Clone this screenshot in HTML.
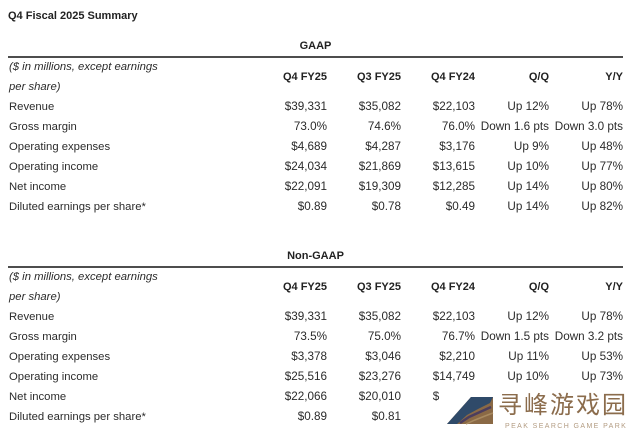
<!DOCTYPE html>
<html>
<head>
<meta charset="utf-8">
<style>
  html, body { margin:0; padding:0; }
  body { width:640px; height:438px; background:#fff; position:relative; overflow:hidden;
         font-family:"Liberation Sans", Arial, sans-serif; color:#2b2b2b; }
  .t { position:absolute; white-space:nowrap; line-height:20px; font-size:11.3px; }
  .b { font-weight:bold; color:#222; }
  .i { font-style:italic; }
  .n { font-size:11.7px; text-align:right; }
  .h { font-size:11px; }
  .line { position:absolute; left:8px; width:615px; height:2px; background:#4d4d4d; }
</style>
</head>
<body>

<div class="t b" style="left:8px;top:6px;font-size:11px;">Q4 Fiscal 2025 Summary</div>

<!-- GAAP -->
<div class="t b" style="left:215px;width:201px;text-align:center;top:36px;font-size:11px;">GAAP</div>
<div class="line" style="top:56px;"></div>
<div class="t i" style="left:9px;top:57px;">($ in millions, except earnings</div>
<div class="t i" style="left:9px;top:77px;">per share)</div>

<div class="t b n h" style="right:313px;top:67px;">Q4 FY25</div>
<div class="t b n h" style="right:239px;top:67px;">Q3 FY25</div>
<div class="t b n h" style="right:165px;top:67px;">Q4 FY24</div>
<div class="t b n h" style="right:91px;top:67px;">Q/Q</div>
<div class="t b n h" style="right:17px;top:67px;">Y/Y</div>

<div class="t" style="left:9px;top:97px;">Revenue</div>
<div class="t n" style="right:313px;top:97px;">$39,331</div>
<div class="t n" style="right:239px;top:97px;">$35,082</div>
<div class="t n" style="right:165px;top:97px;">$22,103</div>
<div class="t n" style="right:91px;top:97px;">Up 12%</div>
<div class="t n" style="right:17px;top:97px;">Up 78%</div>

<div class="t" style="left:9px;top:117px;">Gross margin</div>
<div class="t n" style="right:313px;top:117px;">73.0%</div>
<div class="t n" style="right:239px;top:117px;">74.6%</div>
<div class="t n" style="right:165px;top:117px;">76.0%</div>
<div class="t n" style="right:91px;top:117px;">Down 1.6 pts</div>
<div class="t n" style="right:17px;top:117px;">Down 3.0 pts</div>

<div class="t" style="left:9px;top:137px;">Operating expenses</div>
<div class="t n" style="right:313px;top:137px;">$4,689</div>
<div class="t n" style="right:239px;top:137px;">$4,287</div>
<div class="t n" style="right:165px;top:137px;">$3,176</div>
<div class="t n" style="right:91px;top:137px;">Up 9%</div>
<div class="t n" style="right:17px;top:137px;">Up 48%</div>

<div class="t" style="left:9px;top:157px;">Operating income</div>
<div class="t n" style="right:313px;top:157px;">$24,034</div>
<div class="t n" style="right:239px;top:157px;">$21,869</div>
<div class="t n" style="right:165px;top:157px;">$13,615</div>
<div class="t n" style="right:91px;top:157px;">Up 10%</div>
<div class="t n" style="right:17px;top:157px;">Up 77%</div>

<div class="t" style="left:9px;top:177px;">Net income</div>
<div class="t n" style="right:313px;top:177px;">$22,091</div>
<div class="t n" style="right:239px;top:177px;">$19,309</div>
<div class="t n" style="right:165px;top:177px;">$12,285</div>
<div class="t n" style="right:91px;top:177px;">Up 14%</div>
<div class="t n" style="right:17px;top:177px;">Up 80%</div>

<div class="t" style="left:9px;top:197px;">Diluted earnings per share*</div>
<div class="t n" style="right:313px;top:197px;">$0.89</div>
<div class="t n" style="right:239px;top:197px;">$0.78</div>
<div class="t n" style="right:165px;top:197px;">$0.49</div>
<div class="t n" style="right:91px;top:197px;">Up 14%</div>
<div class="t n" style="right:17px;top:197px;">Up 82%</div>

<!-- Non-GAAP -->
<div class="t b" style="left:215px;width:201px;text-align:center;top:246px;font-size:11px;">Non-GAAP</div>
<div class="line" style="top:266px;"></div>
<div class="t i" style="left:9px;top:267px;">($ in millions, except earnings</div>
<div class="t i" style="left:9px;top:287px;">per share)</div>

<div class="t b n h" style="right:313px;top:277px;">Q4 FY25</div>
<div class="t b n h" style="right:239px;top:277px;">Q3 FY25</div>
<div class="t b n h" style="right:165px;top:277px;">Q4 FY24</div>
<div class="t b n h" style="right:91px;top:277px;">Q/Q</div>
<div class="t b n h" style="right:17px;top:277px;">Y/Y</div>

<div class="t" style="left:9px;top:307px;">Revenue</div>
<div class="t n" style="right:313px;top:307px;">$39,331</div>
<div class="t n" style="right:239px;top:307px;">$35,082</div>
<div class="t n" style="right:165px;top:307px;">$22,103</div>
<div class="t n" style="right:91px;top:307px;">Up 12%</div>
<div class="t n" style="right:17px;top:307px;">Up 78%</div>

<div class="t" style="left:9px;top:327px;">Gross margin</div>
<div class="t n" style="right:313px;top:327px;">73.5%</div>
<div class="t n" style="right:239px;top:327px;">75.0%</div>
<div class="t n" style="right:165px;top:327px;">76.7%</div>
<div class="t n" style="right:91px;top:327px;">Down 1.5 pts</div>
<div class="t n" style="right:17px;top:327px;">Down 3.2 pts</div>

<div class="t" style="left:9px;top:347px;">Operating expenses</div>
<div class="t n" style="right:313px;top:347px;">$3,378</div>
<div class="t n" style="right:239px;top:347px;">$3,046</div>
<div class="t n" style="right:165px;top:347px;">$2,210</div>
<div class="t n" style="right:91px;top:347px;">Up 11%</div>
<div class="t n" style="right:17px;top:347px;">Up 53%</div>

<div class="t" style="left:9px;top:367px;">Operating income</div>
<div class="t n" style="right:313px;top:367px;">$25,516</div>
<div class="t n" style="right:239px;top:367px;">$23,276</div>
<div class="t n" style="right:165px;top:367px;">$14,749</div>
<div class="t n" style="right:91px;top:367px;">Up 10%</div>
<div class="t n" style="right:17px;top:367px;">Up 73%</div>

<div class="t" style="left:9px;top:387px;">Net income</div>
<div class="t n" style="right:313px;top:387px;">$22,066</div>
<div class="t n" style="right:239px;top:387px;">$20,010</div>
<div class="t n" style="right:165px;top:387px;">$14,690</div>

<div class="t" style="left:9px;top:407px;">Diluted earnings per share*</div>
<div class="t n" style="right:313px;top:407px;">$0.89</div>
<div class="t n" style="right:239px;top:407px;">$0.81</div>

<!-- watermark -->
<div style="position:absolute;left:440px;top:388px;width:200px;height:50px;background:#fff;"></div>
<svg style="position:absolute;left:0;top:0;" width="640" height="438" viewBox="0 0 640 438">
  <polygon points="447,424 471,397 493,397 493,424" fill="#8a6945"/>
  <polygon points="447,424 471,397 493,397 490,403 478,409 467,415 457,424" fill="#2f4a69"/>
  <polyline points="460,423 469,417 480,412 491,407" fill="none" stroke="#4b3d5e" stroke-width="2.5"/>
  <polyline points="466,424 475,420 485,416 493,413" fill="none" stroke="#a88a60" stroke-width="1.5"/>
</svg>
<div style="position:absolute;left:498px;top:388px;font-family:'Noto Sans CJK SC','WenQuanYi Zen Hei',sans-serif;font-size:24px;line-height:30px;letter-spacing:2px;color:#8b6c4c;white-space:nowrap;">寻峰游戏园</div>
<div style="position:absolute;left:505px;top:422px;font-family:'Liberation Sans',sans-serif;font-size:7px;line-height:10px;letter-spacing:1.4px;color:#b39c82;white-space:nowrap;">PEAK SEARCH GAME PARK</div>

</body>
</html>
